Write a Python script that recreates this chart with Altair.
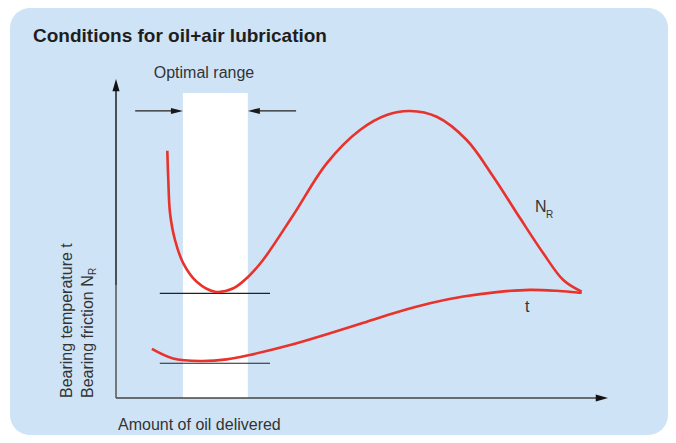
import altair as alt
import pandas as pd

# ---------------- data (abstract units: x = amount of oil 0..100, y = 0..100) ----------------
nr_x = [10.43, 10.63, 10.98, 11.99, 13.68, 16.40, 20.12, 23.84, 26.89, 29.88, 36.04, 42.83, 49.59, 55.02, 59.76, 65.18, 71.28, 76.69, 82.11, 86.85, 90.91, 94.65]
nr_y = [77.52, 68.34, 57.99, 49.53, 42.23, 36.46, 33.32, 34.39, 38.03, 43.26, 57.37, 73.57, 84.01, 88.71, 89.97, 88.18, 80.88, 69.37, 56.40, 45.36, 36.99, 33.32]

t_x = [7.3, 11.6, 17.1, 22.5, 27.2, 35.4, 43.5, 50.3, 57.1, 63.8, 70.6, 77.4, 84.1, 89.6, 94.3, 94.65]
t_y = [15.4, 12.4, 11.6, 12.1, 13.5, 16.6, 20.3, 23.6, 26.9, 29.7, 31.8, 33.2, 33.9, 33.6, 33.0, 33.0]

opt_range = [13.6, 26.8]
opt_top = 95.6
ref_levels = [32.8, 10.9]
ref_span = [8.9, 31.3]
dim_arrow_y = 90.0
dim_arrow_tails = [3.9, 36.6]
nr_axis_split = 35.4

title_text = "Conditions for oil+air lubrication"
range_text = "Optimal range"
x_title = "Amount of oil delivered"
y_title_1 = "Bearing temperature t"
y_title_2 = "Bearing friction N"

RED = "#e8322b"
BLUE = "#cfe3f6"
FONT = "Liberation Sans"

X = alt.X("x:Q", scale=alt.Scale(domain=[0, 100], nice=False, zero=False), axis=None)
Y = alt.Y("y:Q", scale=alt.Scale(domain=[0, 100], nice=False, zero=False), axis=None)

dummy = pd.DataFrame({"k": [0]})

panel = alt.Chart(dummy).mark_rect(color=BLUE, cornerRadius=20).encode(
    x=alt.value(-106), x2=alt.value(552), y=alt.value(-71), y2=alt.value(356)
)

opt = alt.Chart(pd.DataFrame({"x": [opt_range[0]], "x2": [opt_range[1]], "y": [0], "y2": [opt_top]})).mark_rect(
    color="white"
).encode(x=X, x2="x2:Q", y=Y, y2="y2:Q")

refs = alt.Chart(pd.DataFrame({"x": [ref_span[0]] * 2, "x2": [ref_span[1]] * 2, "y": ref_levels})).mark_rule(
    color="#222222", strokeWidth=1.2
).encode(x=X, x2="x2:Q", y=Y)

axes_df = pd.DataFrame({
    "x": [0, 0, 0],
    "x2": [98, 0, 0],
    "y": [0, 0, nr_axis_split],
    "y2": [0, nr_axis_split, 97],
    "part": ["xaxis", "ylow", "yhigh"],
})
axes = alt.Chart(axes_df).mark_rule().encode(
    x=X, x2="x2:Q", y=Y, y2="y2:Q",
    color=alt.Color("part:N", scale=alt.Scale(domain=["xaxis", "ylow", "yhigh"], range=["#444444", "#555555", "#111111"]), legend=None),
    strokeWidth=alt.StrokeWidth("part:N", scale=alt.Scale(domain=["xaxis", "ylow", "yhigh"], range=[1.6, 1.4, 2.4]), legend=None),
)

dim_df = pd.DataFrame({
    "x": [dim_arrow_tails[0], dim_arrow_tails[1]],
    "x2": [opt_range[0] - 1.5, opt_range[1] + 1.5],
    "y": [dim_arrow_y] * 2,
})
dims = alt.Chart(dim_df).mark_rule(color="#222222", strokeWidth=1.1).encode(x=X, x2="x2:Q", y=Y)

nr = alt.Chart(pd.DataFrame({"x": nr_x, "y": nr_y})).mark_line(
    color=RED, strokeWidth=2.6, interpolate="catmull-rom"
).encode(x=X, y=Y, order=alt.Order("x:Q"))
tc = alt.Chart(pd.DataFrame({"x": t_x, "y": t_y})).mark_line(
    color=RED, strokeWidth=2.6, interpolate="catmull-rom"
).encode(x=X, y=Y, order=alt.Order("x:Q"))

ARROW_AXIS = "M0,0L-2,-0.58L-2,0.58Z"
ARROW_DIM = "M0,0L-2,-0.5L-2,0.5Z"

heads_axis = alt.Chart(pd.DataFrame({"x": [100, 0], "y": [0, 100], "a": [0, 270]})).mark_point(
    shape=ARROW_AXIS, filled=True, opacity=1, size=150, strokeWidth=0
).encode(
    x=X, y=Y,
    angle=alt.Angle("a:Q", scale=None),
    color=alt.value("#111111"),
)
heads_dim = alt.Chart(pd.DataFrame({"x": opt_range, "y": [dim_arrow_y] * 2, "a": [0, 180]})).mark_point(
    shape=ARROW_DIM, filled=True, opacity=1, size=144, strokeWidth=0
).encode(
    x=X, y=Y,
    angle=alt.Angle("a:Q", scale=None),
    color=alt.value("#1a1a1a"),
)


def label(text, x, y, size=16, weight="normal", align="left", angle=0, color="#333333"):
    return alt.Chart(pd.DataFrame({"t": [text]})).mark_text(
        font=FONT, fontSize=size, fontWeight=weight, align=align, baseline="alphabetic",
        angle=angle, color=color
    ).encode(text="t:N", x=alt.value(x), y=alt.value(y))


texts = [
    label(title_text, -83, -37, size=19, weight="bold", color="#1e1e1e"),
    label(range_text, 88, -1, align="center"),
    label(x_title, 2, 351),
    label("N", 419, 133),
    label("R", 430, 139, size=10),
    label("t", 409, 233),
    label(y_title_1, -44, 319, angle=270),
    label(y_title_2, -23, 319, angle=270),
    label("R", -20, 196, size=10, angle=270),
]

chart = alt.layer(panel, opt, refs, dims, axes, nr, tc, heads_axis, heads_dim, *texts).properties(
    width=492,
    height=319,
    autosize=alt.AutoSizeParams(type="none"),
    padding={"left": 108, "top": 71, "right": 60, "bottom": 37},
    background="white",
).configure_view(stroke=None)

chart.save("out.html", embed_options={"renderer": "svg", "actions": False})
